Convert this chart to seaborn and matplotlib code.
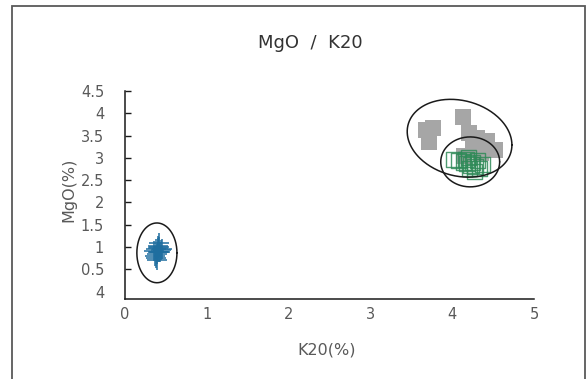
import numpy as np
import pandas as pd
import matplotlib
matplotlib.use("Agg")
import matplotlib.pyplot as plt
import seaborn as sns
from matplotlib.patches import Rectangle

# --- data -------------------------------------------------------------
# group A (blue crosses)
k2o_a = [0.38, 0.40, 0.42, 0.36, 0.44, 0.39, 0.41, 0.43, 0.37, 0.40, 0.45, 0.38, 0.42, 0.40, 0.39]
mgo_a = [0.95, 0.90, 1.00, 0.92, 0.93, 0.85, 1.10, 0.88, 0.80, 0.98, 0.95, 0.75, 0.90, 1.02, 0.70]

# group B (grey filled squares)
k2o_b = [3.68, 3.76, 3.72, 4.13, 4.20, 4.30, 4.42, 4.52, 4.25, 4.35, 4.15]
mgo_b = [3.62, 3.66, 3.35, 3.92, 3.55, 3.45, 3.38, 3.18, 3.25, 3.10, 3.05]

# group C (green open squares)
k2o_c = [4.02, 4.08, 4.14, 4.23, 4.31, 4.37, 4.27, 4.21, 4.33, 4.17, 4.25, 4.20, 4.28, 4.18]
mgo_c = [2.97, 2.95, 2.91, 2.84, 2.95, 2.86, 2.69, 2.77, 2.77, 2.97, 2.90, 3.00, 2.80, 2.88]

x_ticks = [0, 1, 2, 3, 4, 5]
y_ticks = [0, 0.5, 1, 1.5, 2, 2.5, 3, 3.5, 4, 4.5]
y_tick_labels = ["4", "0.5", "1", "1.5", "2", "2.5", "3", "3.5", "4", "4.5"]

# grouping ellipses: (cx, cy, rx, ry, tilt)
ellipses = [
    (0.39, 0.87, 0.245, 0.67, 0.0),
    (4.09, 3.44, 0.64, 0.86, -0.15),
    (4.22, 2.91, 0.36, 0.56, 0.0),
]

df_a = pd.DataFrame({"K2O": k2o_a, "MgO": mgo_a})
df_b = pd.DataFrame({"K2O": k2o_b, "MgO": mgo_b})
df_c = pd.DataFrame({"K2O": k2o_c, "MgO": mgo_c})

# --- styling ----------------------------------------------------------
sns.set_style("white")
plt.rcParams["font.family"] = ["DejaVu Sans"]
text_col = "#595959"

fig = plt.figure(figsize=(5.86, 3.79), dpi=100)
ax = fig.add_axes([125 / 586, 1 - 299 / 379, (534 - 125) / 586, (299 - 91) / 379])

sns.scatterplot(data=df_b, x="K2O", y="MgO", ax=ax, marker="s", s=125,
                color="#a6a6a6", linewidth=0, zorder=2)
sns.scatterplot(data=df_c, x="K2O", y="MgO", ax=ax, marker="s", s=120,
                color="#2f8a58", zorder=3)
ax.collections[-1].set_facecolor("none")
ax.collections[-1].set_edgecolor("#2f8a58")
ax.collections[-1].set_linewidth(1.0)
ax.collections[-1].set_alpha(0.85)
sns.scatterplot(data=df_a, x="K2O", y="MgO", ax=ax, marker="+", s=200,
                color="#1f6e9f", linewidth=1.1, zorder=4)

t = np.linspace(0, 2 * np.pi, 300)
for cx, cy, rx, ry, tilt in ellipses:
    ax.plot(cx + rx * np.cos(t), cy + ry * np.sin(t) + tilt * np.cos(t),
            color="#1a1a1a", lw=1.1, zorder=5)

ax.set_xlim(0, 5)
ax.set_ylim(-0.165, 4.5)
ax.set_xticks(x_ticks)
ax.set_xticklabels([str(v) for v in x_ticks])
ax.set_yticks(y_ticks)
ax.set_yticklabels(y_tick_labels)

ax.tick_params(axis="x", length=0, pad=6, labelsize=10.5, labelcolor=text_col)
ax.tick_params(axis="y", direction="in", length=4.5, width=1.0, color="#1a1a1a",
               pad=15, labelsize=10.5, labelcolor=text_col, left=True)
ax.yaxis.get_major_ticks()[0].tick1line.set_visible(False)

for side in ("top", "right"):
    ax.spines[side].set_visible(False)
for side in ("left", "bottom"):
    ax.spines[side].set_color("#1a1a1a")
    ax.spines[side].set_linewidth(1.1)

ax.set_xlabel("")
ax.set_ylabel("")
fig.text(310 / 586, 1 - 43 / 379, "MgO  /  K20", ha="center", va="center",
         fontsize=13, color="#333333")
fig.text(327 / 586, 1 - 350 / 379, "K20(%)", ha="center", va="center",
         fontsize=11.5, color=text_col)
fig.text(69 / 586, 1 - 190 / 379, "MgO(%)", ha="center", va="center",
         rotation=90, fontsize=11.5, color=text_col)

# chart border
fig.patches.append(Rectangle((12 / 586, -0.05), (585 - 12) / 586, 1 - 5.5 / 379 + 0.05,
                             transform=fig.transFigure, fill=False,
                             edgecolor="#595959", lw=1.3))

fig.savefig("out.png", dpi=100)
